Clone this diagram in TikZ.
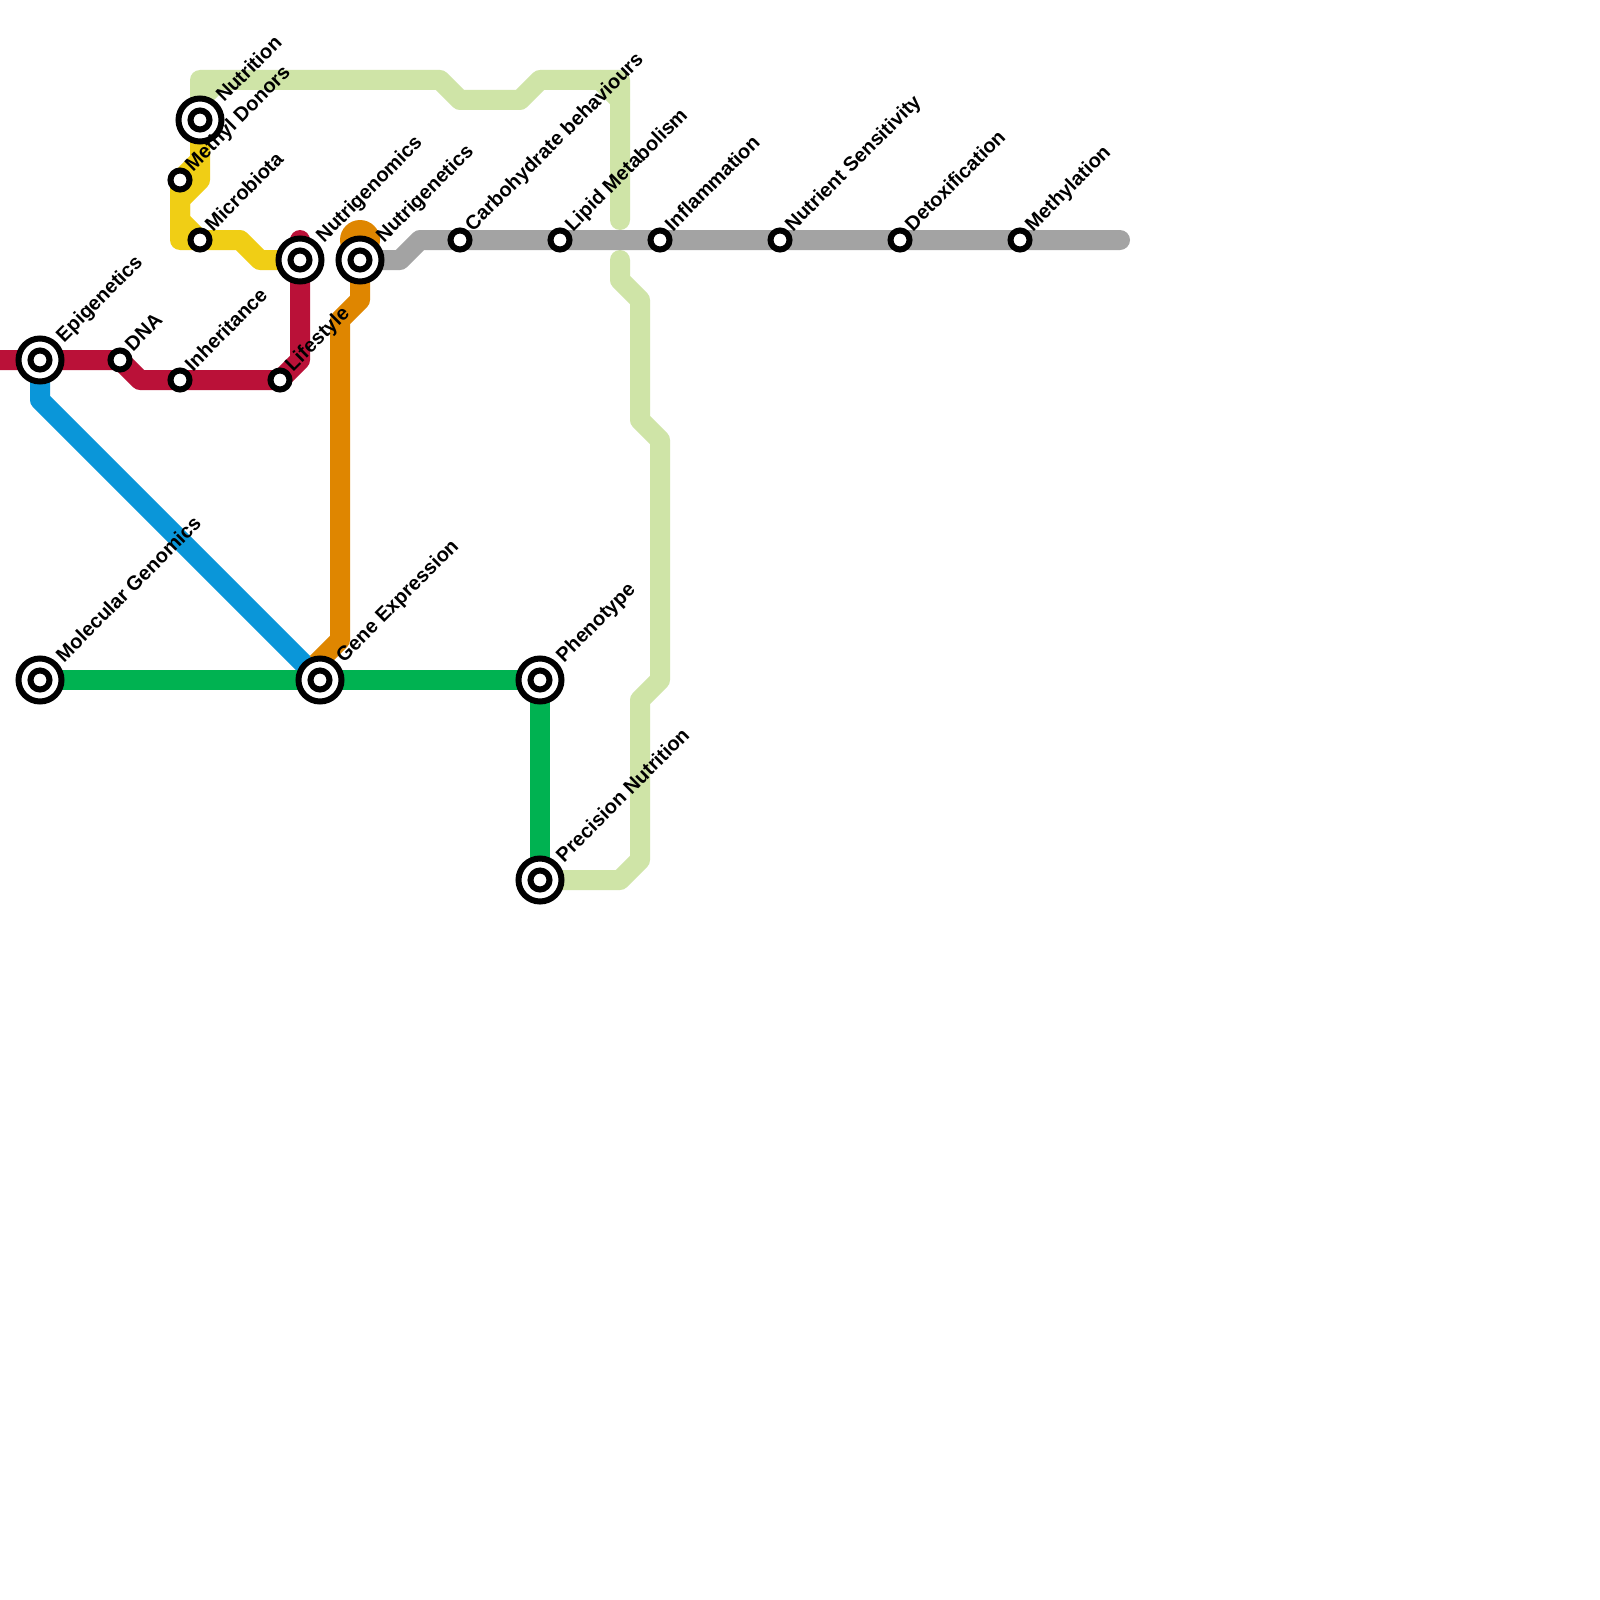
\documentclass[tikz,border=0pt]{standalone}
\usepackage{fontspec}
\usetikzlibrary{calc}
\setmainfont{Liberation Sans}
\definecolor{cRed}{HTML}{BA1138}
\definecolor{cBlue}{HTML}{0A96D9}
\definecolor{cGreen}{HTML}{00B251}
\definecolor{cOrange}{HTML}{DF8600}
\definecolor{cYellow}{HTML}{F0CE15}
\definecolor{cLime}{HTML}{CFE4A7}
\definecolor{cGrey}{HTML}{A3A3A3}
\tikzset{
  x=1pt,y=-1pt,
  metro/.style={line width=20pt,line join=round,line cap=round},
  flatend/.style={line cap=butt},
  smallstation/.style={circle,draw=black,fill=white,line width=6pt,minimum size=19pt,inner sep=0pt,outer sep=0pt},
  bigstation/.style={circle,draw=black,fill=white,line width=6pt,minimum size=43pt,inner sep=0pt,outer sep=0pt,
     label={[smallstation]center:{}}},
  stationlabel/.style={rotate=45,anchor=base west,inner sep=0pt,outer sep=0pt,font=\fontsize{20pt}{22pt}\selectfont\bfseries,text=black},
}
\begin{document}
\begin{tikzpicture}
\useasboundingbox (0,0) rectangle (1600,1600);
\fill[white] (0,0) rectangle (1600,1600);
% stations positions
\coordinate (pEpi) at (40,360);
\coordinate (pDna) at (120,360);
\coordinate (pInh) at (180,380);
\coordinate (pLife) at (280,380);
\coordinate (pNgm) at (300,260);
\coordinate (pNgt) at (360,260);
\coordinate (pNutr) at (200,120);
\coordinate (pMeth) at (180,180);
\coordinate (pMicro) at (200,240);
\coordinate (pCarb) at (460,240);
\coordinate (pLipid) at (560,240);
\coordinate (pInfl) at (660,240);
\coordinate (pSens) at (780,240);
\coordinate (pDetox) at (900,240);
\coordinate (pMethyl) at (1020,240);
\coordinate (pMol) at (40,680);
\coordinate (pGene) at (320,680);
\coordinate (pPheno) at (540,680);
\coordinate (pPrec) at (540,880);
% free ends and bends
\coordinate (redStart) at (0,360);
\coordinate (redTop) at (300,240);
\coordinate (greyEnd) at (1120,240);
\coordinate (limeA) at (620,220);
\coordinate (limeB) at (620,260);
% lines
\begin{scope}
\clip (0,0) rectangle (1600,1600);
\draw[metro,cLime] (pNutr) -- (200,80) -- (440,80) -- (460,100) -- (520,100) -- (540,80) -- (620,80) -- (limeA);
\draw[metro,cLime] (200,100) -- (220,80);
\draw[metro,cLime] (600,80) -- (620,100);
\draw[metro,cLime] (limeB) -- (620,280) -- (640,300) -- (640,420) -- (660,440) -- (660,680) -- (640,700) -- (640,860) -- (620,880) -- (pPrec);
\draw[metro,cGrey] (pNgt) -- (400,260) -- (420,240) -- (greyEnd);
\draw[metro,cYellow,flatend] (pNutr) -- (200,180) -- (180,200) -- (180,220) -- (pMicro);
\draw[metro,cYellow,flatend] (pMeth) -- (200,160);
\draw[metro,cYellow,flatend] (pMeth) -- (180,240) -- (240,240) -- (260,260) -- (pNgm);
\draw[metro,cRed,flatend] (redStart) -- (pDna) -- (140,380) -- (280,380) -- (300,360) -- (redTop);
\fill[cRed] (redTop) circle[radius=10pt];
\draw[metro,cBlue,flatend] (pEpi) -- (40,400) -- (pGene);
\draw[metro,cOrange,flatend] (317,663) -- (340,640) -- (340,320) -- (360,300) -- (pNgt);
\fill[cOrange] (360,240) circle[radius=20pt];
\draw[metro,cGreen,flatend] (pMol) -- (pPheno) -- (pPrec);
\end{scope}
% stations
\node[bigstation] (epi) at (pEpi) {};
\node[smallstation] (dna) at (pDna) {};
\node[smallstation] (inh) at (pInh) {};
\node[smallstation] (life) at (pLife) {};
\node[bigstation] (ngm) at (pNgm) {};
\node[bigstation] (ngt) at (pNgt) {};
\node[bigstation] (nutr) at (pNutr) {};
\node[smallstation] (meth) at (pMeth) {};
\node[smallstation] (micro) at (pMicro) {};
\node[smallstation] (carb) at (pCarb) {};
\node[smallstation] (lipid) at (pLipid) {};
\node[smallstation] (infl) at (pInfl) {};
\node[smallstation] (sens) at (pSens) {};
\node[smallstation] (detox) at (pDetox) {};
\node[smallstation] (methyl) at (pMethyl) {};
\node[bigstation] (mol) at (pMol) {};
\node[bigstation] (gene) at (pGene) {};
\node[bigstation] (pheno) at (pPheno) {};
\node[bigstation] (prec) at (pPrec) {};
% labels
\newcommand{\biglab}[3]{\node[stationlabel] (#1) at ($(#2)+(24,-17)$) {#3};}
\newcommand{\smalllab}[3]{\node[stationlabel] (#1) at ($(#2)+(13,-8)$) {#3};}
\biglab{lEpi}{pEpi}{Epigenetics}
\smalllab{lDna}{pDna}{DNA}
\smalllab{lInh}{pInh}{Inheritance}
\smalllab{lLife}{pLife}{Lifestyle}
\biglab{lNgm}{pNgm}{Nutrigenomics}
\biglab{lNgt}{pNgt}{Nutrigenetics}
\biglab{lNutr}{pNutr}{Nutrition}
\smalllab{lMeth}{pMeth}{Methyl Donors}
\smalllab{lMicro}{pMicro}{Microbiota}
\smalllab{lCarb}{pCarb}{Carbohydrate behaviours}
\smalllab{lLipid}{pLipid}{Lipid Metabolism}
\smalllab{lInfl}{pInfl}{Inflammation}
\smalllab{lSens}{pSens}{Nutrient Sensitivity}
\smalllab{lDetox}{pDetox}{Detoxification}
\smalllab{lMethyl}{pMethyl}{Methylation}
\biglab{lMol}{pMol}{Molecular Genomics}
\biglab{lGene}{pGene}{Gene Expression}
\biglab{lPheno}{pPheno}{Phenotype}
\biglab{lPrec}{pPrec}{Precision Nutrition}
\end{tikzpicture}
\end{document}
